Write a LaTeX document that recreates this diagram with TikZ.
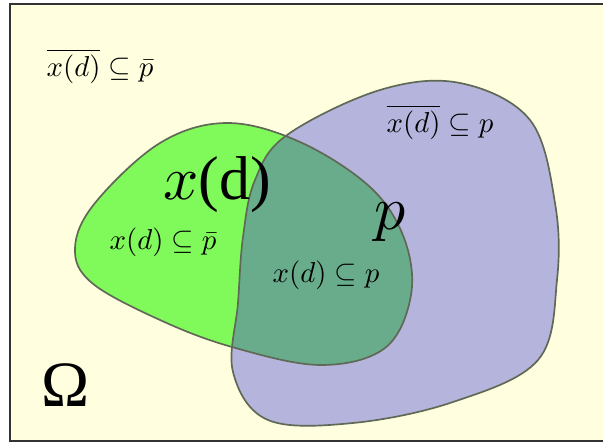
\documentclass[tikz,border=0pt]{standalone}
\usepackage{fontspec}
\setmainfont{Liberation Serif}
\usetikzlibrary{positioning}

\definecolor{omegabg}{RGB}{255,255,224}
\definecolor{xdgreen}{RGB}{128,250,90}
\definecolor{pblue}{RGB}{180,180,220}
\definecolor{bothteal}{RGB}{104,172,140}
\definecolor{rimgray}{RGB}{95,105,85}

\newcommand\blobxd{plot[smooth cycle,tension=.6] coordinates {(227,123) (300,142) (370,187) (404,238) (411,295) (385,348) (320,365) (232,347) (160,320) (92,283) (75,248) (95,203) (160,143)}}
\newcommand\blobp{plot[smooth cycle,tension=.6] coordinates {(287,135) (380,90) (460,83) (530,120) (555,203) (557,280) (538,360) (453,402) (353,423) (268,420) (233,372) (238,303) (243,237) (255,180)}}

\tikzset{
  rim/.style={draw=rimgray,line width=1.2pt},
  small lbl/.style={scale=2.05},
  big lbl/.style={scale=4.4}
}

\begin{document}
\begin{tikzpicture}[x=0.025cm,y=-0.025cm]
\useasboundingbox (0,0) rectangle (603,444);
\fill[white] (0,0) rectangle (603,444);
\fill[omegabg] (10,4) rectangle (603,441);
\draw[line width=2pt,black!80] (603,4) -- (10,4) -- (10,441) -- (603,441);
% the two sets
\fill[pblue] \blobp;
\fill[xdgreen] \blobxd;
\begin{scope}
  \clip \blobp;
  \fill[bothteal] \blobxd;
\end{scope}
\draw[rim] \blobp;
\draw[rim] \blobxd;
% labels
\node[small lbl] (outside) at (100,66) {$\overline{x(d)}\subseteq\bar{p}$};
\node[small lbl] (ponly) at (440,122) {$\overline{x(d)}\subseteq p$};
\node[small lbl] (xdonly) at (163,242) {$x(d)\subseteq\bar{p}$};
\node[small lbl] (both) at (326,275) {$x(d)\subseteq p$};
\node[big lbl] (xd) at (217,185) {$x$(d)};
\node[big lbl] (p) at (390,222) {$p$};
\node[font=\fontsize{46}{50}\selectfont] (omega) at (66,385) {Ω};
\end{tikzpicture}
\end{document}
